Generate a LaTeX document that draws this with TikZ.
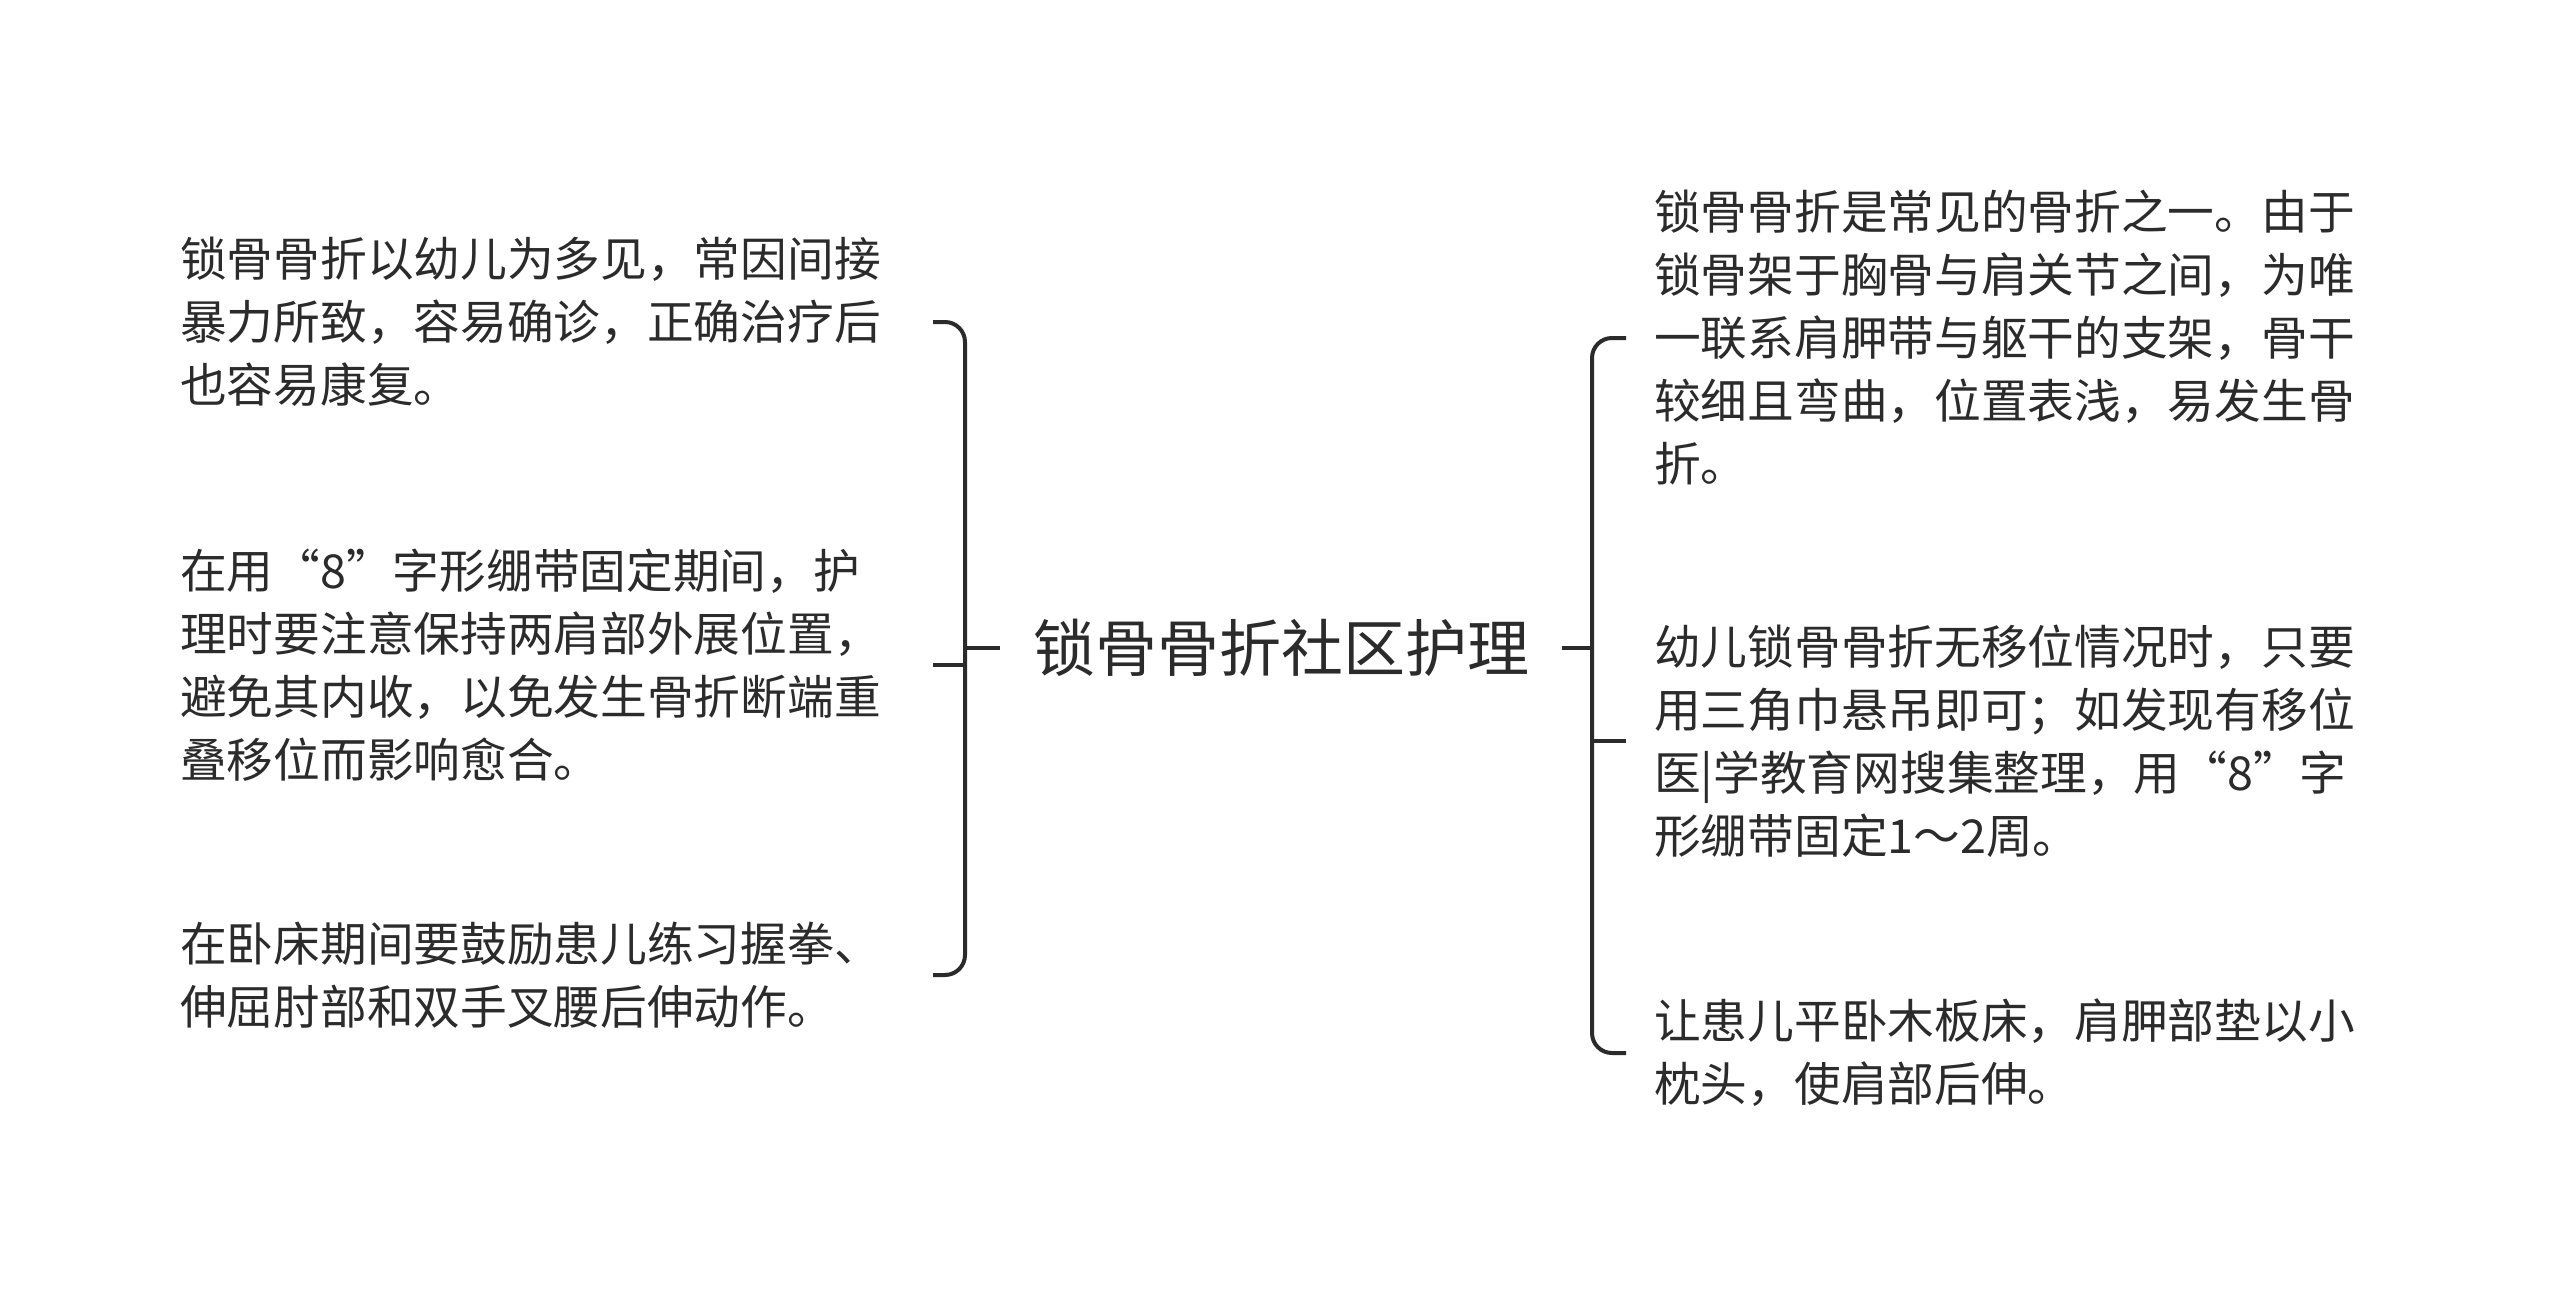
\documentclass[tikz,border=0pt]{standalone}
\usepackage{fontspec}
\setmainfont{Noto Sans CJK SC}
\definecolor{inkgray}{HTML}{2B2B2B}

\begin{document}
\begin{tikzpicture}[x=1pt,y=-1pt,
    leaf/.style={anchor=west, inner sep=0pt, align=left, text=inkgray,
                 font=\fontsize{46.7}{63}\selectfont},
    rootbox/.style={inner xsep=32.5pt, inner ysep=0pt, text=inkgray,
                 font=\fontsize{62}{70}\selectfont},
    brace/.style={draw=inkgray, line width=4pt, rounded corners=20pt}]
    %% The page is the same size as the picture, y runs downward like the pixels
    \useasboundingbox (0,0) rectangle (2560,1295);

    \node[rootbox] (root) at (1281,648) {锁骨骨折社区护理};

    %% left branch
    \node[leaf] (l1) at (180,322) {锁骨骨折以幼儿为多见，常因间接\\暴力所致，容易确诊，正确治疗后\\也容易康复。};
    \node[leaf] (l2) at (180,665) {在用“8”字形绷带固定期间，护\\理时要注意保持两肩部外展位置，\\避免其内收，以免发生骨折断端重\\叠移位而影响愈合。};
    \node[leaf] (l3) at (180,975) {在卧床期间要鼓励患儿练习握拳、\\伸屈肘部和双手叉腰后伸动作。};

    %% right branch
    \node[leaf] (r1) at (1654,338) {锁骨骨折是常见的骨折之一。由于\\锁骨架于胸骨与肩关节之间，为唯\\一联系肩胛带与躯干的支架，骨干\\较细且弯曲，位置表浅，易发生骨\\折。};
    \node[leaf] (r2) at (1654,741) {幼儿锁骨骨折无移位情况时，只要\\用三角巾悬吊即可；如发现有移位\\医|学教育网搜集整理，用“8”字\\形绷带固定1～2周。};
    \node[leaf] (r3) at (1654,1053) {让患儿平卧木板床，肩胛部垫以小\\枕头，使肩部后伸。};

    \coordinate (ltick) at (933,0);
    \coordinate (lbar) at (965,0);
    \coordinate (rbar) at (1592,0);
    \coordinate (rtick) at (1626,0);

    \draw[brace] (ltick |- l1) -| (lbar |- l3) -- (ltick |- l3);
    \draw[brace] (ltick |- l2) -- (lbar |- l2);
    \draw[brace] (lbar |- root) -- (root.west);

    \draw[brace] (rtick |- r1) -| (rbar |- r3) -- (rtick |- r3);
    \draw[brace] (rbar |- r2) -- (rtick |- r2);
    \draw[brace] (root.east) -- (rbar |- root);
\end{tikzpicture}
\end{document}
